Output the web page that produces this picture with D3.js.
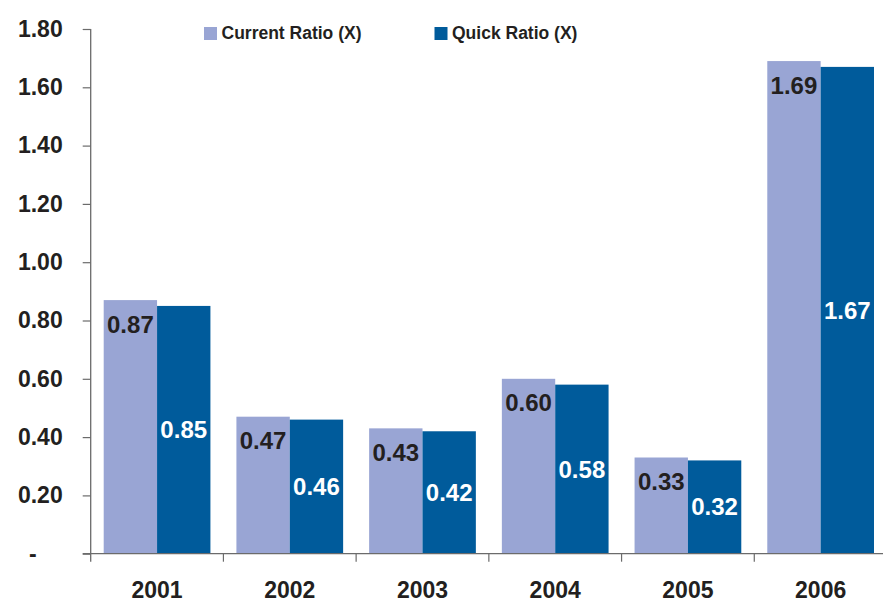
<!DOCTYPE html>
<html>
<head>
<meta charset="utf-8">
<script src="https://cdn.jsdelivr.net/npm/d3@7"></script>
<style>
  html, body { margin: 0; padding: 0; background: #ffffff; }
  svg { display: block; font-family: "Liberation Sans", Arial, Helvetica, sans-serif; font-weight: bold; }
</style>
</head>
<body>
<svg id="chart" width="883" height="607"></svg>
<script>
// Liquidity ratios by year
const years = ["2001", "2002", "2003", "2004", "2005", "2006"];
const seriesNames = ["Current Ratio (X)", "Quick Ratio (X)"];
const currentRatio = [0.87, 0.47, 0.43, 0.60, 0.33, 1.69];
const quickRatio = [0.85, 0.46, 0.42, 0.58, 0.32, 1.67];
const yTicks = [0, 0.2, 0.4, 0.6, 0.8, 1.0, 1.2, 1.4, 1.6, 1.8];

const colors = ["#99a5d4", "#005b9b"];
const textDark = "#231f20";
const axisColor = "#6b6b6b";

const svg = d3.select("#chart");

const plot = { left: 90.7, right: 887, top: 29, bottom: 553.7 };

const x = d3.scaleBand().domain(years).range([plot.left, plot.right]).padding(0);
const inner = d3.scaleBand().domain(seriesNames)
  .range([13, x.bandwidth() - 13]).padding(0);
const y = d3.scaleLinear().domain([0, 1.8]).range([plot.bottom, plot.top]);

const rows = years.map((yr, i) => ({ year: yr, values: [currentRatio[i], quickRatio[i]] }));

// bars
const groups = svg.append("g").selectAll("g")
  .data(rows).join("g")
  .attr("transform", d => `translate(${x(d.year)},0)`);

groups.selectAll("rect")
  .data(d => d.values.map((v, k) => ({ v, k })))
  .join("rect")
  .attr("x", d => inner(seriesNames[d.k]))
  .attr("width", inner.bandwidth())
  .attr("y", d => y(d.v))
  .attr("height", d => y(0) - y(d.v))
  .attr("fill", d => colors[d.k]);

// value labels: current ratio near the top, quick ratio centred
groups.selectAll("text")
  .data(d => d.values.map((v, k) => ({ v, k })))
  .join("text")
  .attr("x", d => inner(seriesNames[d.k]) + inner.bandwidth() / 2)
  .attr("y", d => d.k === 0 ? y(d.v) + 32.5 : (y(d.v) + y(0)) / 2)
  .attr("dy", d => d.k === 0 ? 0 : "0.35em")
  .attr("text-anchor", "middle")
  .attr("font-size", 24)
  .attr("fill", d => d.k === 0 ? textDark : "#ffffff")
  .text(d => d3.format(".2f")(d.v));

// y axis
const yAxis = svg.append("g")
  .attr("transform", `translate(${plot.left},0)`)
  .call(d3.axisLeft(y).tickValues(yTicks).tickSize(8).tickPadding(20)
    .tickFormat(v => v === 0 ? "-" : d3.format(".2f")(v)));
yAxis.select(".domain").attr("stroke", axisColor).attr("stroke-width", 1.3)
  .attr("d", `M0,${plot.top}V${plot.bottom + 8}`);
yAxis.selectAll(".tick line").attr("stroke", axisColor).attr("stroke-width", 1.2);
yAxis.selectAll(".tick text")
  .attr("font-size", 23).attr("font-family", null).attr("fill", textDark)
  .attr("x", v => v === 0 ? -54 : -28);

// x axis: baseline, boundary ticks and year labels
const xAxisG = svg.append("g");
xAxisG.append("line")
  .attr("x1", plot.left - 8).attr("x2", 883)
  .attr("y1", y(0)).attr("y2", y(0))
  .attr("stroke", axisColor).attr("stroke-width", 1.3);
const bounds = years.map(yr => x(yr)).concat([x.range()[1]]);
xAxisG.selectAll("line.tick").data(bounds.slice(1)).join("line")
  .attr("class", "tick")
  .attr("x1", d => d).attr("x2", d => d)
  .attr("y1", y(0)).attr("y2", y(0) + 8)
  .attr("stroke", axisColor).attr("stroke-width", 1.2);
xAxisG.selectAll("text").data(years).join("text")
  .attr("x", d => x(d) + x.bandwidth() / 2)
  .attr("y", 598)
  .attr("text-anchor", "middle")
  .attr("font-size", 23)
  .attr("fill", textDark)
  .text(d => d);

// legend
const legendPos = [204, 434.5];
const legend = svg.append("g").selectAll("g")
  .data(seriesNames).join("g")
  .attr("transform", (d, i) => `translate(${legendPos[i]},0)`);
legend.append("rect")
  .attr("x", 0).attr("y", 27).attr("width", 13).attr("height", 13)
  .attr("fill", (d, i) => colors[i]);
legend.append("text")
  .attr("x", 17.5).attr("y", 39)
  .attr("font-size", 17.5)
  .attr("fill", textDark)
  .text(d => d);
</script>
</body>
</html>
